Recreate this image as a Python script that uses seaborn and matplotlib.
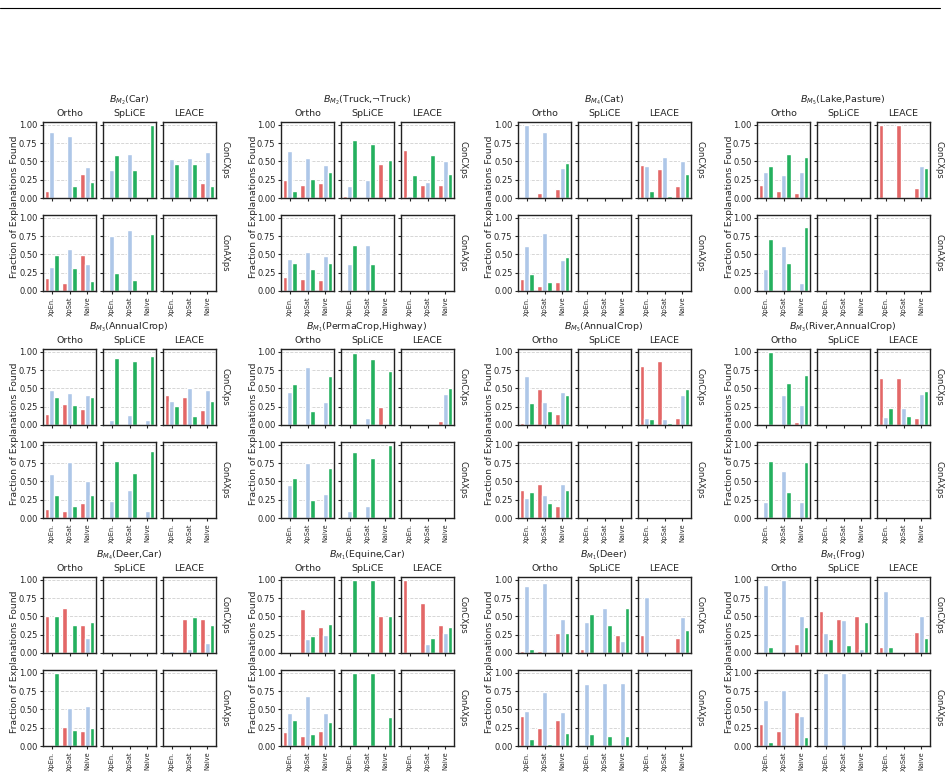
import numpy as np
import pandas as pd
import seaborn as sns
import matplotlib.pyplot as plt
from matplotlib.lines import Line2D

# categories / labels
methods = ["Ortho", "SpLiCE", "LEACE"]
xps_types = ["ConCXps", "ConAXps"]
xp_cats = ["XpEn.", "XpSat", "Naive"]
hue_levels = ["s1", "s2", "s3"]
bar_colors = ["#e36767", "#aec7e8", "#24b05e"]

titles = [r"$B_{M_2}$(Car)", r"$B_{M_2}$(Truck,¬Truck)", r"$B_{M_4}$(Cat)", r"$B_{M_5}$(Lake,Pasture)",
          r"$B_{M_3}$(AnnualCrop)", r"$B_{M_1}$(PermaCrop,Highway)", r"$B_{M_5}$(AnnualCrop)",
          r"$B_{M_3}$(River,AnnualCrop)", r"$B_{M_4}$(Deer,Car)", r"$B_{M_1}$(Equine,Car)",
          r"$B_{M_1}$(Deer)", r"$B_{M_1}$(Frog)"]

# values per method: [XpEn., XpSat, Naive], each [red, blue, green]
zero = [[0, 0, 0], [0, 0, 0], [0, 0, 0]]

car_cx = [[[0.09, 0.90, 0], [0, 0.85, 0.16], [0.33, 0.43, 0.22]],
          [[0.02, 0.39, 0.59], [0, 0.60, 0.39], [0, 0, 1.00]],
          [[0, 0.54, 0.47], [0, 0.55, 0.46], [0.20, 0.63, 0.17]]]
car_ax = [[[0.18, 0.33, 0.49], [0.11, 0.57, 0.31], [0.49, 0.37, 0.14]],
          [[0, 0.75, 0.25], [0, 0.84, 0.15], [0, 0, 0.78]],
          zero]

truck_cx = [[[0.25, 0.65, 0.10], [0.18, 0.55, 0.26], [0.20, 0.45, 0.36]],
            [[0.03, 0.17, 0.79], [0.02, 0.24, 0.74], [0.47, 0, 0.52]],
            [[0.66, 0.03, 0.32], [0.18, 0.22, 0.59], [0.18, 0.50, 0.33]]]
truck_ax = [[[0.19, 0.44, 0.38], [0.16, 0.53, 0.30], [0.15, 0.48, 0.38]],
            [[0, 0.37, 0.63], [0, 0.63, 0.37], [0, 0, 0]],
            zero]

cat_cx = [[[0, 1.00, 0], [0.07, 0.90, 0.02], [0.12, 0.41, 0.48]],
          zero,
          [[0.45, 0.44, 0.10], [0.40, 0.56, 0.03], [0.17, 0.50, 0.33]]]
cat_ax = [[[0.16, 0.61, 0.23], [0.07, 0.80, 0.12], [0.12, 0.42, 0.46]],
          zero, zero]

lake_cx = [[[0.18, 0.36, 0.44], [0.09, 0.31, 0.60], [0.07, 0.36, 0.56]],
           zero,
           [[1.00, 0, 0], [1.00, 0, 0], [0.14, 0.44, 0.41]]]
lake_ax = [[[0, 0.30, 0.71], [0, 0.61, 0.38], [0, 0.11, 0.88]],
           zero, zero]

annual3_cx = [[[0.15, 0.48, 0.38], [0.29, 0.44, 0.27], [0.22, 0.41, 0.38]],
              [[0, 0.07, 0.92], [0, 0.14, 0.87], [0, 0.07, 0.94]],
              [[0.41, 0.33, 0.26], [0.38, 0.50, 0.12], [0.20, 0.48, 0.33]]]
annual3_ax = [[[0.12, 0.60, 0.31], [0.09, 0.76, 0.17], [0.20, 0.50, 0.31]],
              [[0, 0.23, 0.78], [0, 0.39, 0.62], [0, 0.09, 0.92]],
              zero]

perma_cx = [[[0, 0.45, 0.56], [0, 0.80, 0.19], [0.01, 0.31, 0.67]],
            [[0, 0.02, 0.98], [0, 0.09, 0.91], [0.24, 0.02, 0.74]],
            [[0, 0, 0], [0, 0, 0], [0.06, 0.42, 0.50]]]
perma_ax = [[[0, 0.45, 0.55], [0, 0.75, 0.25], [0, 0.33, 0.68]],
            [[0, 0.09, 0.91], [0, 0.17, 0.82], [0, 0, 1.00]],
            zero]

annual5_cx = [[[0.03, 0.67, 0.30], [0.49, 0.31, 0.19], [0.15, 0.45, 0.41]],
              zero,
              [[0.81, 0.09, 0.08], [0.88, 0.08, 0.03], [0.09, 0.41, 0.49]]]
annual5_ax = [[[0.39, 0.27, 0.36], [0.47, 0.32, 0.21], [0.17, 0.46, 0.38]],
              zero, zero]

river_cx = [[[0, 0, 1.00], [0.02, 0.41, 0.58], [0.04, 0.28, 0.68]],
            zero,
            [[0.65, 0.11, 0.23], [0.65, 0.23, 0.12], [0.09, 0.42, 0.47]]]
river_ax = [[[0, 0.22, 0.78], [0, 0.65, 0.36], [0, 0.22, 0.77]],
            zero, zero]

deercar_cx = [[[0.50, 0, 0.50], [0.62, 0, 0.39], [0.38, 0.20, 0.43]],
              zero,
              [[0, 0.03, 0], [0.47, 0.05, 0.49], [0.47, 0.14, 0.39]]]
deercar_ax = [[[0, 0, 1.00], [0.26, 0.52, 0.22], [0.21, 0.55, 0.24]],
              zero, zero]

equine_cx = [[[0, 0, 0], [0.60, 0.19, 0.23], [0.35, 0.25, 0.40]],
             [[0, 0, 1.00], [0, 0, 1.00], [0.50, 0, 0.50]],
             [[1.00, 0, 0], [0.68, 0.12, 0.21], [0.38, 0.28, 0.35]]]
equine_ax = [[[0.19, 0.45, 0.36], [0.14, 0.69, 0.17], [0.21, 0.45, 0.33]],
             [[0, 0, 1.00], [0, 0, 1.00], [0, 0, 0.40]],
             zero]

deer_cx = [[[0.03, 0.92, 0.05], [0.03, 0.96, 0.01], [0.27, 0.47, 0.28]],
           [[0.05, 0.42, 0.54], [0.02, 0.61, 0.39], [0.24, 0.16, 0.61]],
           [[0.24, 0.77, 0], [0, 0, 0], [0.21, 0.49, 0.31]]]
deer_ax = [[[0.41, 0.48, 0.10], [0.24, 0.74, 0.03], [0.35, 0.47, 0.18]],
           [[0, 0.85, 0.16], [0, 0.86, 0.14], [0, 0.86, 0.14]],
           zero]

frog_cx = [[[0, 0.93, 0.08], [0, 1.00, 0], [0.12, 0.51, 0.36]],
           [[0.57, 0.27, 0.19], [0.46, 0.45, 0.11], [0.51, 0.06, 0.43]],
           [[0.08, 0.85, 0.08], [0, 0, 0], [0.29, 0.50, 0.21]]]
frog_ax = [[[0.30, 0.63, 0.06], [0.21, 0.77, 0.02], [0.47, 0.41, 0.12]],
           [[0, 1.00, 0], [0, 1.00, 0], [0, 0, 0]],
           zero]

groups = [(car_cx, car_ax), (truck_cx, truck_ax), (cat_cx, cat_ax), (lake_cx, lake_ax),
          (annual3_cx, annual3_ax), (perma_cx, perma_ax), (annual5_cx, annual5_ax), (river_cx, river_ax),
          (deercar_cx, deercar_ax), (equine_cx, equine_ax), (deer_cx, deer_ax), (frog_cx, frog_ax)]


def to_frame(vals):
    rows = []
    for i, cat in enumerate(xp_cats):
        for j, h in enumerate(hue_levels):
            rows.append({"xp": cat, "hue": h, "frac": vals[i][j]})
    return pd.DataFrame(rows)


sns.set_style("ticks")
plt.rcParams["axes.linewidth"] = 1.0
plt.rcParams["axes.edgecolor"] = "#222222"

W, H = 948, 777
fig = plt.figure(figsize=(W / 100, H / 100), dpi=100)

def px_axes(x, y, w, h):
    return fig.add_axes([x / W, 1 - (y + h) / H, w / W, h / H])

gx = [43, 281, 518, 757]
gy = [122, 349, 577]
aw, step, ah, roff = 53, 60, 76, 93

for g, (cx, axv) in enumerate(groups):
    x0 = gx[g % 4]
    y0 = gy[g // 4]
    for r, block in enumerate([cx, axv]):
        for m, meth in enumerate(methods):
            ax = px_axes(x0 + m * step, y0 + r * roff, aw, ah)
            df = to_frame(block[m])
            sns.barplot(data=df, x="xp", y="frac", hue="hue", hue_order=hue_levels,
                        palette=bar_colors, saturation=1, width=0.8, legend=False, ax=ax)
            ax.set_ylim(0, 1.04)
            ax.set_xlim(-0.5, 2.5)
            ax.set_yticks([0, 0.25, 0.5, 0.75, 1.0])
            ax.yaxis.grid(True, linestyle="--", color="#d0d0d0", linewidth=0.6)
            ax.set_axisbelow(True)
            ax.set_xlabel("")
            ax.set_ylabel("")
            ax.tick_params(length=2.5, width=0.8, pad=1.5)
            for s in ax.spines.values():
                s.set_visible(True)
            if m == 0:
                ax.set_yticklabels(["0.00", "0.25", "0.50", "0.75", "1.00"], fontsize=6)
            else:
                ax.set_yticklabels([])
            if r == 1:
                ax.set_xticks(range(3))
                ax.set_xticklabels(xp_cats, rotation=90, fontsize=4.7)
            else:
                ax.set_xticklabels([])
            if r == 0:
                ax.set_title(meth, fontsize=6.8, pad=4.5)
            if m == 2:
                fig.text((x0 + 2 * step + aw + 9) / W, 1 - (y0 + r * roff + ah / 2) / H,
                         xps_types[r], rotation=270, fontsize=6, ha="center", va="center")
    # group title and y label
    fig.text((x0 + 86) / W, 1 - (y0 - 21.5) / H, titles[g], fontsize=6.8, ha="center", va="center")
    fig.text((x0 - 28) / W, 1 - (y0 + (roff + ah) / 2) / H, "Fraction of Explanations Found",
             rotation=90, fontsize=6.7, ha="center", va="center")

fig.add_artist(Line2D([0, 940 / W], [1 - 8 / H, 1 - 8 / H], color="black", linewidth=0.8))

fig.savefig("out.png", dpi=100)
